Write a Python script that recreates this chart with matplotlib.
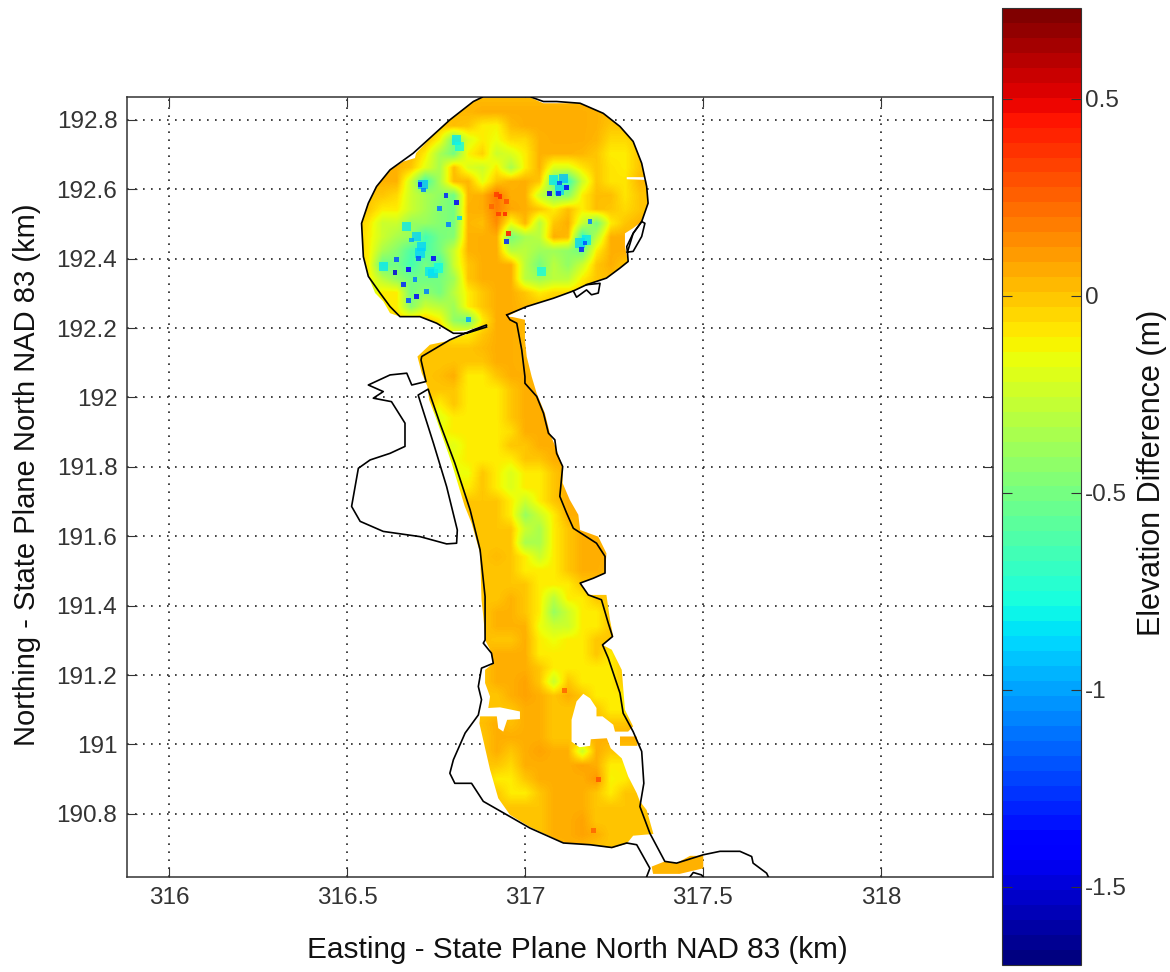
import numpy as np
import matplotlib
matplotlib.use('Agg')
import matplotlib.pyplot as plt
from matplotlib.cm import ScalarMappable
from matplotlib.colors import Normalize
from matplotlib.path import Path

plt.rcParams['font.family'] = ['Liberation Sans', 'DejaVu Sans']

# Elevation difference in cm, on a 40 m grid
grid_e0 = 316.52
grid_n0 = 192.86
grid_step = 0.04
grid_cols = 26
row_start = [8, 6, 5, 4, 3, 2, 1, 0, 0, 0, 0, 0, 0, 0, 1, 2, 3, 5, 5,
             4, 4, 4, 5, 5, 6, 6, 6, 7, 7, 7, 8, 8, 8, 9, 9, 9, 9, 9, 9,
             9, 9, 9, 9, 9, 9, 9, 9, 9, 9, 9, 9, 10, 11, 12, 13, 19, 19]
elev_cm = [
    [3, 3, 3, 3, 3, 3, 3, 3, 3],
    [2, 3, 4, 6, 6, 6, 6, 6, 6, 6, 6, 5, 3],
    [0, 0, 2, 0, -10, -12, 3, 6, 6, 6, 6, 6, 5, 0, 0],
    [2, 3, -12, -50, -20, -10, -15, -5, -5, 5, 6, 6, 6, 4, -5, -5, 0],
    [3, 4, -10, -35, -50, -12, -3, -25, -20, -10, 5, 5, 5, 4, 0, -10, -10, 0, 0],
    [4, 5, 0, -18, -35, 2, -20, -25, -10, -35, -10, 5, -20, -20, -8, 0, -8, -10, 0, 0],
    [3, 5, 5, -25, -65, -35, 3, 4, -18, 0, 5, 6, 0, -50, -68, -25, 0, -8, -8, 4, 2],
    [0, 0, 0, -5, -25, -35, -42, -52, 4, 6, 20, 6, 6, -25, -45, -45, -10, 2, 2, -8, 0, 0],
    [0, 0, -10, -10, -25, -35, -45, -50, 5, 6, 18, 8, 6, 0, -10, 2, -10, 2, 0, -5, 0, 0],
    [0, -8, -25, -25, -40, -40, -45, -50, 4, 2, 15, -15, 4, -30, 0, 6, -25, -50, -10, 0, 5, 0],
    [0, -10, -25, -35, -40, -65, -50, -45, 5, 6, 6, -50, -35, -30, 6, 3, -68, -30, 6, 6, 0, 0],
    [0, -10, -35, -45, -62, -62, -50, -25, 5, 6, 6, -30, -30, -38, -38, -42, -52, -10, 6, 6, 0, 0],
    [-5, -10, -55, -50, -65, -50, -65, -25, 0, 6, 6, 6, -30, -50, -30, -42, -25, 0, 6, 0],
    [-5, -10, -30, -42, -50, -52, -50, -38, 0, 6, 6, 6, -30, -38, -30, -30, -10, 0, 2, 0],
    [-25, -10, -10, -50, -42, -50, -30, -10, 0, 6, 6, 0, -10, -5, -5, -3, 0],
    [-10, -10, -45, -25, -30, -38, -10, 0, 6, 6, 3, 2],
    [-5, 0, 0, -10, -42, -50, -10, 6, 6, 4],
    [0, 0, -10, -10, 0, 6, 6, 3],
    [0, 0, 0, 0, 3, 6, 6, 4],
    [2, 0, 0, 1, 0, 0, 6, 6, 4],
    [2, 0, 2, 6, -10, -10, 0, 6, 6],
    [1, 0, 0, 0, -10, -10, -10, 0, 6, 6],
    [0, -10, 0, -10, -10, -10, 0, 6, 6],
    [-15, -18, -10, -10, -10, -10, 0, 6, 6, 6],
    [-15, -10, -10, -10, -10, -6, 6, 6, 6],
    [-15, -18, -10, -10, -10, 0, 0, 6, 6, 6],
    [-15, -15, -10, -10, -10, -10, 0, 0, 6, 6],
    [-15, -15, 0, -10, -20, -10, -10, 0, 6, 6],
    [-10, -10, 0, -10, -20, -10, -10, 0, 6, 2],
    [0, 0, 0, 0, -10, -25, -10, 0, 6, 6, 2],
    [0, 0, 0, -10, -40, -25, -10, 6, 6, 2],
    [0, 0, 0, 0, -25, -35, -10, 0, 6, 6, 3],
    [0, 0, 0, 0, -35, -35, -10, 0, 6, 6, 2],
    [0, 3, 0, -10, -25, -10, 0, 6, 6, 6],
    [0, 0, 0, -10, -10, -10, 0, 6, 6, 3],
    [0, 0, 0, 0, -10, -10, -10, 0, 0, 0],
    [0, 0, 5, 0, -10, -30, -10, -10, 0, 0, 0],
    [0, 5, 5, 0, -10, -40, -25, -10, -10, 0, 0],
    [0, 5, 5, 5, -15, -25, -25, -10, -10, 0, 0],
    [2, 0, 0, 6, -10, -15, -10, -10, 0, 0, 0],
    [2, 6, 6, 6, -10, -10, -10, -10, 0, -10, 0],
    [0, 6, 6, 6, 0, -10, -10, -10, -10, -10, 0, 0],
    [0, 6, 6, 9, 0, -25, 0, -10, -10, -10, 0, 0],
    [0, 0, 6, 9, 6, 0, 6, 0, -10, -10, -10, 0],
    [0, 0, 0, 6, 6, 0, 0, 0, 0, -10, -10, 0],
    [2, 6, 2, 6, 6, 0, 0, 2, 2, 0, 0, 2],
    [0, 6, 6, 6, 6, 0, 0, 5, 5, 6, 6, 6],
    [0, 6, 0, 6, 9, 6, 6, -25, 6, 0, 0, 0],
    [0, 0, -5, 6, 6, 6, 6, 9, 6, -10, -10, 0],
    [0, -10, -10, 0, 6, 6, 6, 6, 12, -12, -10, 0],
    [0, 0, -10, -10, 0, 6, 6, 6, 0, -10, 0, 0, 0],
    [0, 0, 0, 0, 6, 6, 6, 0, 0, 0, 0, 0],
    [0, 0, 0, 6, 6, 9, 0, 0, 0, 0, 0],
    [0, 0, 6, 6, 9, 6, 0, 0, 0, 0],
    [3, 3, 6, 3, 0, 0, 0, 3, 3, 3, 3, 3, 3],
    [3, 3, 4, 4, 5, 5, 5],
    [3, 3, 4, 4, 5, 5, 5],
]

# Single low/high soundings that stand out from the surface
spot_e = [316.705, 316.714, 316.778, 316.808, 316.761, 316.817, 316.785, 316.682, 316.640,
          316.672, 316.635, 316.742, 316.700, 316.691, 316.658, 316.724, 316.696, 316.672,
          316.841, 317.098, 317.117, 317.068, 317.094, 317.169, 317.159, 317.183, 316.948,
          316.953, 316.930, 316.921, 316.944, 316.925, 316.948, 316.906, 317.206, 317.112,
          317.192]
spot_n = [192.613, 192.598, 192.581, 192.562, 192.545, 192.517, 192.498, 192.454, 192.397,
          192.368, 192.360, 192.401, 192.401, 192.339, 192.325, 192.305, 192.291, 192.279,
          192.224, 192.618, 192.606, 192.587, 192.587, 192.445, 192.427, 192.507, 192.449,
          192.473, 192.579, 192.584, 192.529, 192.529, 192.565, 192.550, 190.900, 191.156,
          190.752]
spot_diff = [-1.3, -1.1, -1.3, -1.4, -1.1, -0.9, -1.1, -1.0, -1.2,
             -1.4, -1.5, -1.4, -1.2, -1.1, -1.3, -1.1, -1.4, -1.2,
             -1.0, -1.2, -1.4, -1.5, -1.3, -1.2, -1.3, -1.1, -1.3,
             0.45, 0.4, 0.35, 0.4, 0.35, 0.3, 0.25, 0.3, 0.25,
             0.25]

# Small cyan pockets
pocket_e = [316.668, 316.696, 316.710, 316.742, 316.602, 316.733, 316.757, 316.705, 317.047,
            317.080, 317.108, 317.098, 317.155, 317.173, 316.808, 316.817, 316.714]
pocket_n = [192.493, 192.464, 192.435, 192.358, 192.377, 192.363, 192.373, 192.416, 192.363,
            192.627, 192.632, 192.598, 192.445, 192.454, 192.742, 192.723, 192.613]
pocket_diff = [-0.85, -0.9, -0.9, -0.9, -0.85, -0.85, -0.8, -0.9, -0.8,
               -0.85, -0.95, -0.9, -0.9, -0.85, -0.85, -0.8, -0.95]

# Survey footprint
foot_e = [316.949, 317.005, 317.080, 317.136, 317.173, 317.229, 317.267, 317.290, 317.281, 317.281,
          317.304, 317.328, 317.346, 317.340, 317.286, 317.286, 317.337, 317.328, 317.304, 317.267,
          317.220, 317.155, 317.052, 317.014, 316.883, 316.855, 316.789, 316.743, 316.694, 316.691,
          316.658, 316.621, 316.583, 316.560, 316.541, 316.546, 316.560, 316.579, 316.602, 316.621,
          316.649, 316.705, 316.752, 316.789, 316.836, 316.888, 316.897, 316.855, 316.789, 316.733,
          316.698, 316.710, 316.726, 316.731, 316.752, 316.794, 316.831, 316.850, 316.874, 316.878,
          316.883, 316.888, 316.888, 316.902, 316.911, 316.888, 316.888, 316.902, 316.897, 316.930,
          316.986, 316.986, 316.950, 316.939, 316.925, 316.921, 316.874, 316.872, 316.902, 316.925,
          316.958, 317.014, 317.108, 317.183, 317.244, 317.286, 317.304, 317.361, 317.342, 317.323,
          317.314, 317.290, 317.272, 317.241, 317.230, 317.185, 317.183, 317.153, 317.131, 317.131,
          317.145, 317.164, 317.183, 317.201, 317.201, 317.218, 317.248, 317.253, 317.290, 317.304,
          317.281, 317.272, 317.244, 317.218, 317.248, 317.239, 317.229, 317.178, 317.155, 317.192,
          317.225, 317.229, 317.206, 317.155, 317.150, 317.126, 317.106, 317.106, 317.089, 317.070,
          317.056, 317.033, 317.019, 317.005, 317.000, 317.000, 316.965]
foot_n = [192.233, 192.262, 192.286, 192.307, 192.325, 192.344, 192.373, 192.392, 192.435, 192.473,
          192.488, 192.507, 192.560, 192.627, 192.629, 192.635, 192.635, 192.675, 192.738, 192.781,
          192.819, 192.848, 192.848, 192.865, 192.865, 192.853, 192.800, 192.757, 192.704, 192.690,
          192.680, 192.656, 192.608, 192.560, 192.502, 192.406, 192.349, 192.301, 192.277, 192.243,
          192.233, 192.233, 192.214, 192.190, 192.193, 192.209, 192.203, 192.190, 192.164, 192.152,
          192.118, 192.070, 192.032, 191.993, 191.935, 191.811, 191.686, 191.638, 191.551, 191.417,
          191.369, 191.311, 191.301, 191.273, 191.234, 191.215, 191.177, 191.138, 191.105, 191.107,
          191.095, 191.073, 191.071, 191.037, 191.047, 191.081, 191.081, 191.061, 190.927, 190.845,
          190.797, 190.762, 190.717, 190.711, 190.701, 190.714, 190.737, 190.742, 190.811, 190.836,
          190.860, 190.908, 190.960, 190.989, 191.018, 191.015, 190.996, 190.992, 191.008, 191.071,
          191.124, 191.146, 191.133, 191.105, 191.081, 191.081, 191.057, 191.037, 191.037, 191.052,
          191.100, 191.215, 191.273, 191.287, 191.311, 191.359, 191.431, 191.431, 191.465, 191.479,
          191.494, 191.551, 191.599, 191.618, 191.662, 191.705, 191.753, 191.801, 191.849, 191.897,
          191.955, 192.012, 192.060, 192.118, 192.166, 192.224, 192.232]
island_e = [317.267, 317.267, 317.316, 317.314]
island_n = [191.023, 190.996, 190.996, 191.023]
patch_e = [317.356, 317.360, 317.435, 317.501, 317.501, 317.464, 317.426, 317.393]
patch_n = [190.648, 190.627, 190.627, 190.643, 190.679, 190.679, 190.658, 190.663]

# Shoreline
shore_e = [316.949, 317.005, 317.080, 317.136, 317.173, 317.229, 317.267, 317.290, 317.288, 317.286,
           317.304, 317.328, 317.346, 317.342, 317.328, 317.304, 317.267, 317.220, 317.155, 317.089,
           317.052, 317.014, 316.883, 316.855, 316.789, 316.743, 316.686, 316.621, 316.583, 316.560,
           316.541, 316.546, 316.560, 316.593, 316.621, 316.649, 316.705, 316.752, 316.799, 316.836,
           316.892, 316.892, 316.855, 316.789, 316.710, 316.708, 316.722, 316.682, 316.668, 316.621,
           316.560, 316.602, 316.574, 316.625, 316.663, 316.663, 316.621, 316.565, 316.532, 316.513,
           316.537, 316.602, 316.705, 316.780, 316.808, 316.810, 316.780, 316.743, 316.700, 316.728,
           316.761, 316.803, 316.846, 316.874, 316.888, 316.888, 316.883, 316.906, 316.911, 316.878,
           316.869, 316.878, 316.869, 316.832, 316.799, 316.789, 316.803, 316.850, 316.883, 316.958,
           317.014, 317.108, 317.183, 317.244, 317.286, 317.314, 317.351, 317.342]
shore_n = [192.238, 192.262, 192.286, 192.307, 192.325, 192.344, 192.373, 192.392, 192.419, 192.435,
           192.473, 192.507, 192.560, 192.608, 192.675, 192.738, 192.781, 192.819, 192.848, 192.853,
           192.853, 192.867, 192.867, 192.853, 192.800, 192.757, 192.704, 192.656, 192.608, 192.560,
           192.502, 192.406, 192.349, 192.301, 192.262, 192.233, 192.233, 192.214, 192.185, 192.185,
           192.203, 192.209, 192.195, 192.166, 192.118, 192.108, 192.046, 192.036, 192.070, 192.065,
           192.036, 192.017, 191.998, 191.988, 191.926, 191.859, 191.839, 191.820, 191.796, 191.686,
           191.643, 191.614, 191.599, 191.578, 191.580, 191.618, 191.743, 191.868, 192.007, 192.024,
           191.926, 191.811, 191.676, 191.561, 191.426, 191.301, 191.292, 191.263, 191.234, 191.220,
           191.167, 191.129, 191.085, 191.033, 190.956, 190.917, 190.888, 190.888, 190.836, 190.792,
           190.759, 190.716, 190.711, 190.703, 190.716, 190.711, 190.643, 190.619]
east_shore_e = [316.949, 316.958, 316.977, 316.991, 317.000, 317.000, 317.033, 317.052, 317.066, 317.084,
                317.089, 317.106, 317.098, 317.117, 317.136, 317.201, 317.225, 317.225, 317.192, 317.155,
                317.178, 317.215, 317.234, 317.243, 317.246, 317.218, 317.234, 317.267, 317.276, 317.304,
                317.328, 317.334, 317.323, 317.351, 317.393, 317.426, 317.501, 317.548, 317.604, 317.637,
                317.641, 317.679, 317.684]
east_shore_n = [192.238, 192.224, 192.214, 192.137, 192.060, 192.041, 192.003, 191.955, 191.897, 191.878,
                191.839, 191.801, 191.715, 191.667, 191.623, 191.580, 191.542, 191.494, 191.479, 191.465,
                191.431, 191.417, 191.350, 191.321, 191.311, 191.287, 191.249, 191.148, 191.090, 191.037,
                190.980, 190.888, 190.821, 190.744, 190.663, 190.658, 190.682, 190.692, 190.692, 190.677,
                190.658, 190.629, 190.618]
bay_e = [317.288, 317.304, 317.328, 317.337, 317.328, 317.304, 317.288]
bay_n = [192.419, 192.473, 192.507, 192.502, 192.464, 192.421, 192.419]
inlet_e = [317.136, 317.145, 317.173, 317.187, 317.206, 317.211, 317.173]
inlet_n = [192.307, 192.289, 192.310, 192.296, 192.301, 192.329, 192.325]
stub_e = [317.464, 317.473, 317.496, 317.501]
stub_n = [190.619, 190.631, 190.624, 190.618]

x_ticks = [316, 316.5, 317, 317.5, 318]
x_tick_labels = ['316', '316.5', '317', '317.5', '318']
y_ticks = [190.8, 191, 191.2, 191.4, 191.6, 191.8, 192, 192.2, 192.4, 192.6, 192.8]
y_tick_labels = ['190.8', '191', '191.2', '191.4', '191.6', '191.8', '192', '192.2', '192.4', '192.6', '192.8']
c_ticks = [-1.5, -1, -0.5, 0, 0.5]
c_tick_labels = ['-1.5', '-1', '-0.5', '0', '0.5']
c_min = -1.698
c_max = 0.73

# build the grid, cells outside the survey are clipped away anyway
diff = np.full((len(elev_cm), grid_cols), 2.0)
for i, row in enumerate(elev_cm):
    diff[i, row_start[i]:row_start[i] + len(row)] = row
diff = diff / 100.0

ink = '#333333'
fig = plt.figure(figsize=(11.7, 9.72), dpi=100)
ax = fig.add_axes([127 / 1170, (972 - 877) / 972, 866 / 1170, 780 / 972])
cax = fig.add_axes([1002 / 1170, (972 - 965) / 972, 79 / 1170, 957 / 972])

half = grid_step / 2
extent = (grid_e0 - half, grid_e0 + (grid_cols - 1) * grid_step + half,
          grid_n0 - (len(elev_cm) - 1) * grid_step - half, grid_n0 + half)
im = ax.imshow(diff, cmap='jet', vmin=c_min, vmax=c_max, extent=extent, aspect='auto',
               interpolation='bilinear', zorder=2)
pockets = ax.scatter(pocket_e, pocket_n, c=pocket_diff, cmap='jet', vmin=c_min, vmax=c_max,
                     s=45, marker='s', linewidths=0, alpha=0.75, zorder=2.3)
spots = ax.scatter(spot_e, spot_n, c=spot_diff, cmap='jet', vmin=c_min, vmax=c_max,
                   s=12, marker='s', linewidths=0, alpha=0.85, zorder=2.5)

# clip the surface to the surveyed area
parts = [Path(np.column_stack([e, n]), closed=False) for e, n in
         [(foot_e + foot_e[:1], foot_n + foot_n[:1]),
          (island_e + island_e[:1], island_n + island_n[:1]),
          (patch_e + patch_e[:1], patch_n + patch_n[:1])]]
footprint = Path.make_compound_path(*parts)
im.set_clip_path(footprint, transform=ax.transData)
pockets.set_clip_path(footprint, transform=ax.transData)
spots.set_clip_path(footprint, transform=ax.transData)

for e, n in [(shore_e, shore_n), (east_shore_e, east_shore_n), (bay_e, bay_n),
             (inlet_e, inlet_n), (stub_e, stub_n)]:
    ax.plot(e, n, color='black', lw=1.2, zorder=3)

ax.set_xlim(315.882, 318.315)
ax.set_ylim(190.618, 192.866)
ax.set_xticks(x_ticks, x_tick_labels)
ax.set_yticks(y_ticks, y_tick_labels)
ax.set_axisbelow(True)
ax.grid(True, color='#222222', lw=1.2, linestyle=(0, (1, 3.8)))
ax.tick_params(direction='in', length=7, width=0.8, top=True, right=True, color=ink,
               labelcolor=ink, labelsize=17.5, pad=7)
for side in ax.spines:
    ax.spines[side].set_color(ink)
    ax.spines[side].set_linewidth(1.1)

ax.set_xlabel('Easting - State Plane North NAD 83 (km)', fontsize=21.4, color='#111111')
ax.xaxis.set_label_coords((577 - 127) / 866, -(950 - 877) / 780)
ax.xaxis.label.set_va('center')
ax.set_ylabel('Northing - State Plane North NAD 83 (km)', fontsize=21, color='#111111')
ax.yaxis.set_label_coords(-(127 - 27) / 866, (877 - 475) / 780)
ax.yaxis.label.set_va('center')

# 64 colour steps on the bar like the original
bar_map = ScalarMappable(Normalize(c_min, c_max), plt.get_cmap('jet', 64))
cbar = fig.colorbar(bar_map, cax=cax)
cbar.set_ticks(c_ticks, labels=c_tick_labels)
cbar.outline.set_edgecolor(ink)
cax.tick_params(direction='in', length=7, width=0.8, left=True, right=True, color=ink,
                labelcolor=ink, labelsize=17.5, pad=3)
cbar.set_label('Elevation Difference (m)', fontsize=22, color='#111111')
cax.yaxis.set_label_coords((1152 - 1002) / 79, (965 - 473) / 957)
cax.yaxis.label.set_va('center')

fig.savefig('out.png', dpi=100)
